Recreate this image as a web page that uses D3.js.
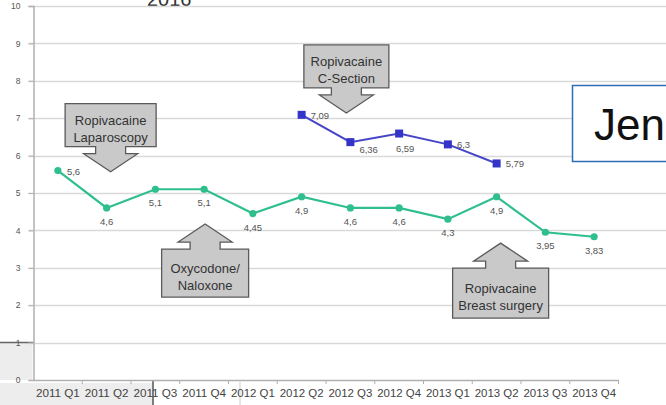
<!DOCTYPE html>
<html><head><meta charset="utf-8">
<script src="https://cdn.jsdelivr.net/npm/d3@7"></script>
<style>html,body{margin:0;padding:0;background:#fff;}svg{display:block;}</style>
</head><body>
<svg id="chart" width="666" height="405"></svg>
<script>
const categories = ["2011 Q1","2011 Q2","2011 Q3","2011 Q4","2012 Q1","2012 Q2","2012 Q3","2012 Q4","2013 Q1","2013 Q2","2013 Q3","2013 Q4"];
const greenValues = [5.6, 4.6, 5.1, 5.1, 4.45, 4.9, 4.6, 4.6, 4.3, 4.9, 3.95, 3.83];
const blueCategories = ["2012 Q2","2012 Q3","2012 Q4","2013 Q1","2013 Q2"];
const blueValues = [7.09, 6.36, 6.59, 6.3, 5.79];
const yTicks = [0,1,2,3,4,5,6,7,8,9,10];
const greenLabelPos = ["right","below","below","below","below","below","below","below","below","below","below","below"];
const blueLabelPos = ["right","rightlow","below","right","right"];
const annotations = [
  {lines:["Ropivacaine","Laparoscopy"], category:"2011 Q2", tip:5.57, dir:"down", dx:4, w:91, h:43},
  {lines:["Oxycodone/","Naloxone"], category:"2011 Q4", tip:4.17, dir:"up", dx:1, w:87, h:48},
  {lines:["Ropivacaine","C-Section"], category:"2012 Q3", tip:7.14, dir:"down", dx:-4, w:85, h:43},
  {lines:["Ropivacaine","Breast surgery"], category:"2013 Q2", tip:3.66, dir:"up", dx:4, w:96, h:50}
];

(function(){
const svg = d3.select("#chart");
const mLeft = 33.5, mRight = 618.5, mTop = 6, mBottom = 380;
const x = d3.scaleBand().domain(categories).range([mLeft, mRight]);
const y = d3.scaleLinear().domain([0, 10]).range([mBottom, mTop]);
const cx = c => x(c) + x.bandwidth()/2;
const fmt = v => String(v).replace(".", ",");
const FONT = "Liberation Sans, Arial, sans-serif";

// background artifacts of the screenshot
svg.append("rect").attr("x",0).attr("y",y(1)).attr("width",mLeft-1).attr("height",mBottom-y(1)).attr("fill","#ededed");
svg.append("rect").attr("x",0).attr("y",mBottom+3).attr("width",153).attr("height",405-mBottom-3).attr("fill","#ededed");
svg.append("line").attr("x1",0).attr("x2",mLeft).attr("y1",y(1)).attr("y2",y(1)).attr("stroke","#666").attr("stroke-width",1.5);
svg.append("line").attr("x1",153).attr("x2",153).attr("y1",mBottom).attr("y2",405).attr("stroke","#555").attr("stroke-width",1.5);
svg.append("line").attr("x1",240).attr("x2",240).attr("y1",mBottom+2).attr("y2",405).attr("stroke","#ccc").attr("stroke-width",1);
svg.append("text").attr("x",147).attr("y",6).attr("font-family",FONT).attr("font-size",20).attr("fill","#333").text("2016");

// gridlines
svg.append("g").selectAll("line").data(yTicks.filter(d=>d>0)).join("line")
  .attr("x1", mLeft-5).attr("x2", 666)
  .attr("y1", d=>Math.round(y(d))+0.5).attr("y2", d=>Math.round(y(d))+0.5)
  .attr("stroke","#d9d9d9").attr("stroke-width",1.5);

// y axis
const yAxis = d3.axisLeft(y).tickValues(yTicks).tickSize(5).tickPadding(8).tickFormat(d3.format("d"));
const gy = svg.append("g").attr("transform",`translate(${mLeft},0)`).call(yAxis);
gy.select(".domain").attr("stroke","#b0b0b0").attr("stroke-width",1.5);
gy.selectAll(".tick line").attr("stroke","#b0b0b0");
gy.selectAll("text").attr("font-family",FONT).attr("font-size",8.5).attr("fill","#555");

// x axis
const xAxis = d3.axisBottom(x).tickSize(0).tickPadding(10);
const gx = svg.append("g").attr("transform",`translate(0,${mBottom})`).call(xAxis);
gx.select(".domain").attr("stroke","#b0b0b0").attr("stroke-width",1.5);
gx.selectAll("text").attr("font-family",FONT).attr("font-size",10).attr("fill","#444").attr("textLength",44).attr("lengthAdjust","spacingAndGlyphs");
svg.append("g").selectAll("line").data(categories).join("line")
  .attr("x1", d=>x(d)+x.bandwidth()).attr("x2", d=>x(d)+x.bandwidth())
  .attr("y1", mBottom).attr("y2", mBottom+4).attr("stroke","#b0b0b0");

// green line
const green = "#2fbf8c";
const gData = categories.map((c,i)=>({c, v:greenValues[i], pos:greenLabelPos[i]}));
svg.append("path").datum(gData)
  .attr("d", d3.line().x(d=>cx(d.c)).y(d=>y(d.v)))
  .attr("fill","none").attr("stroke",green).attr("stroke-width",2.2);
svg.append("g").selectAll("circle").data(gData).join("circle")
  .attr("cx", d=>cx(d.c)).attr("cy", d=>y(d.v)).attr("r",3.6).attr("fill",green);
svg.append("g").selectAll("text").data(gData).join("text")
  .attr("x", d=> d.pos==="right" ? cx(d.c)+9 : cx(d.c))
  .attr("y", d=> d.pos==="right" ? y(d.v)+4 : y(d.v)+17)
  .attr("text-anchor", d=> d.pos==="right" ? "start" : "middle")
  .attr("font-family",FONT).attr("font-size",9.5).attr("fill","#555")
  .text(d=>fmt(d.v));

// blue line
const blue = "#3434c8";
const bData = blueCategories.map((c,i)=>({c, v:blueValues[i], pos:blueLabelPos[i]}));
svg.append("path").datum(bData)
  .attr("d", d3.line().x(d=>cx(d.c)).y(d=>y(d.v)))
  .attr("fill","none").attr("stroke","#4646c8").attr("stroke-width",2);
svg.append("g").selectAll("rect").data(bData).join("rect")
  .attr("x", d=>cx(d.c)-4).attr("y", d=>y(d.v)-4).attr("width",8).attr("height",8).attr("fill",blue);
svg.append("g").selectAll("text").data(bData).join("text")
  .attr("x", d=> d.pos==="below" ? cx(d.c)+6 : cx(d.c)+9)
  .attr("y", d=> d.pos==="below" ? y(d.v)+18 : d.pos==="rightlow" ? y(d.v)+11 : y(d.v)+4)
  .attr("text-anchor", d=> d.pos==="below" ? "middle" : "start")
  .attr("font-family",FONT).attr("font-size",9.5).attr("fill","#555")
  .text(d=>fmt(d.v));

// callouts
const headH = 18, neckH = 7, headW = 54, neckW = 30;
annotations.forEach(a=>{
  const tx = cx(a.category) + a.dx, ty = y(a.tip);
  const s = a.dir==="down" ? -1 : 1;
  const headBase = ty + s*headH, neckEnd = headBase + s*neckH;
  const boxNear = neckEnd, boxFar = neckEnd + s*a.h;
  const bl = tx - a.w/2, br = tx + a.w/2;
  const p = d3.path();
  p.moveTo(tx, ty);
  p.lineTo(tx+headW/2, headBase);
  p.lineTo(tx+neckW/2, headBase);
  p.lineTo(tx+neckW/2, boxNear);
  p.lineTo(br, boxNear);
  p.lineTo(br, boxFar);
  p.lineTo(bl, boxFar);
  p.lineTo(bl, boxNear);
  p.lineTo(tx-neckW/2, boxNear);
  p.lineTo(tx-neckW/2, headBase);
  p.lineTo(tx-headW/2, headBase);
  p.closePath();
  svg.append("path").attr("d", p.toString()).attr("fill","#c9c9c9").attr("stroke","#5a5a5a").attr("stroke-width",1.3);
  const boxTop = Math.min(boxNear, boxFar);
  const midY = boxTop + a.h/2;
  svg.append("text").attr("x",tx).attr("y",midY-0.5)
    .attr("text-anchor","middle").attr("font-family",FONT).attr("font-size",13).attr("fill","#333").text(a.lines[0]);
  svg.append("text").attr("x",tx).attr("y",midY+16.5)
    .attr("text-anchor","middle").attr("font-family",FONT).attr("font-size",13).attr("fill","#333").text(a.lines[1]);
});

// "Jen" text box
svg.append("rect").attr("x",572.5).attr("y",85.5).attr("width",110).attr("height",76).attr("fill","#fff").attr("stroke","#2e6db4").attr("stroke-width",1.5);
svg.append("text").attr("x",594).attr("y",140).attr("font-family",FONT).attr("font-size",44).attr("fill","#111").text("Jen");
})();
</script>
</body></html>
